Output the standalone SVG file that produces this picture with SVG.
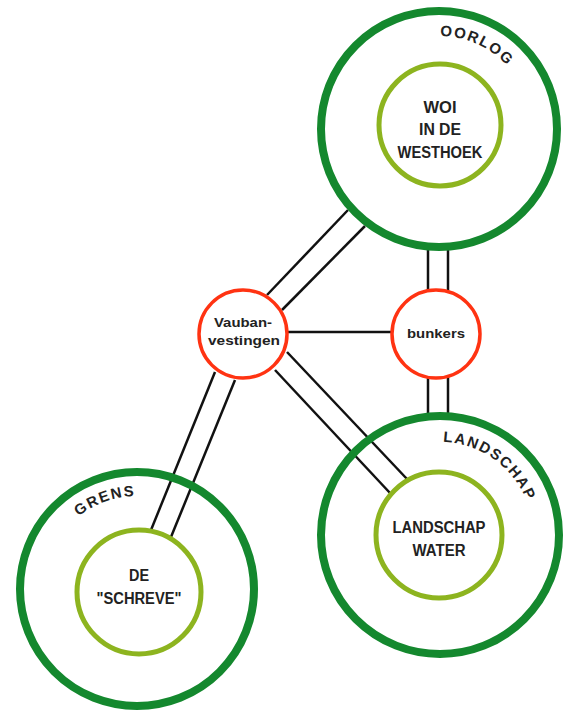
<svg xmlns="http://www.w3.org/2000/svg" xmlns:xlink="http://www.w3.org/1999/xlink" width="564" height="713" viewBox="0 0 564 713">
<style>
.outer{fill:none;stroke:#14882e;stroke-width:8}
.inner{fill:none;stroke:#8db41f;stroke-width:5}
.red{fill:#fff;stroke:#ff3312;stroke-width:3.5}
.lbl{font-family:"Liberation Sans Narrow","Liberation Sans",Arial,sans-serif;font-weight:bold;fill:#222;text-anchor:middle}
.big{font-size:16px}
.small{font-size:13px}
.arc{font-family:"Liberation Sans",Arial,sans-serif;font-weight:bold;font-size:15px;fill:#222;letter-spacing:1.6px}
.con line{stroke:#111;stroke-width:2.5}
</style>
<defs>
<path id="arcTop" d="M346,129 A93,93 0 1 1 532,129 A93,93 0 1 1 346,129"/>
<path id="arcLeft" d="M44,589 A93,93 0 1 1 230,589 A93,93 0 1 1 44,589"/>
<path id="arcRight" d="M347,535 A93,93 0 1 1 533,535 A93,93 0 1 1 347,535"/>
</defs>
<rect width="564" height="713" fill="#fff"/>
<g id="connectors" class="con">
<line x1="267" y1="295" x2="348" y2="210"/>
<line x1="282" y1="310" x2="365" y2="226"/>
<line x1="428" y1="249" x2="428" y2="290"/>
<line x1="448" y1="249" x2="448" y2="291"/>
<line x1="428" y1="378" x2="428" y2="415"/>
<line x1="448" y1="377" x2="448" y2="415"/>
<line x1="288" y1="332" x2="391" y2="332"/>
<line x1="275" y1="370" x2="390" y2="493"/>
<line x1="287" y1="352" x2="407" y2="479"/>
<line x1="215" y1="372" x2="151" y2="530"/>
<line x1="235" y1="380" x2="171" y2="537"/>
</g>
<g id="oorlog">
<circle class="outer" cx="439" cy="129" r="118"/>
<text class="arc"><textPath xlink:href="#arcTop" href="#arcTop" startOffset="147">OORLOG</textPath></text>
</g>
<g id="woi">
<circle class="inner" cx="440" cy="125" r="61"/>
<text class="lbl big" x="440" y="113" textLength="33" lengthAdjust="spacingAndGlyphs">WOI</text>
<text class="lbl big" x="440" y="135" textLength="42" lengthAdjust="spacingAndGlyphs">IN DE</text>
<text class="lbl big" x="440" y="158" textLength="85" lengthAdjust="spacingAndGlyphs">WESTHOEK</text>
</g>
<g id="grens">
<circle class="outer" cx="137" cy="589" r="117"/>
<text class="arc"><textPath xlink:href="#arcLeft" href="#arcLeft" startOffset="83">GRENS</textPath></text>
</g>
<g id="schreve">
<circle class="inner" cx="139" cy="592" r="62"/>
<text class="lbl big" x="139" y="581" textLength="20" lengthAdjust="spacingAndGlyphs">DE</text>
<text class="lbl big" x="139" y="604" textLength="85" lengthAdjust="spacingAndGlyphs">"SCHREVE"</text>
</g>
<g id="landschap">
<circle class="outer" cx="440" cy="535" r="119"/>
<text class="arc"><textPath xlink:href="#arcRight" href="#arcRight" startOffset="149">LANDSCHAP</textPath></text>
</g>
<g id="water">
<circle class="inner" cx="439" cy="535" r="63"/>
<text class="lbl big" x="439" y="533" textLength="93" lengthAdjust="spacingAndGlyphs">LANDSCHAP</text>
<text class="lbl big" x="439" y="556" textLength="53" lengthAdjust="spacingAndGlyphs">WATER</text>
</g>
<g id="vauban">
<circle class="red" cx="243" cy="334" r="44"/>
<text class="lbl small" x="243" y="327" textLength="58" lengthAdjust="spacingAndGlyphs">Vauban-</text>
<text class="lbl small" x="244" y="345" textLength="72" lengthAdjust="spacingAndGlyphs">vestingen</text>
</g>
<g id="bunkers">
<circle class="red" cx="436" cy="334" r="44"/>
<text class="lbl small" x="436" y="338" textLength="58" lengthAdjust="spacingAndGlyphs">bunkers</text>
</g>
</svg>
